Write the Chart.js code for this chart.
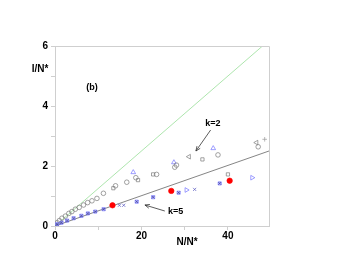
<!DOCTYPE html>
<html>
<head>
<meta charset="utf-8">
<script src="https://cdn.jsdelivr.net/npm/chart.js@4.4.0/dist/chart.umd.min.js"></script>
<style>html,body{margin:0;padding:0;background:#fff;}</style>
</head>
<body>
<canvas id="myChart" width="353" height="273"></canvas>
<script>
// axis ticks
var xTicks = [0, 10, 20, 30, 40];
var yTicks = [0, 1, 2, 3, 4, 5, 6];
var xTickLabels = [0, 20, 40];
var yTickLabels = [0, 2, 4, 6];

// upper branch (k=2)
var upCircles = [[0.5,0.11],[1.0,0.18],[1.6,0.26],[2.4,0.33],[3.2,0.42],[3.9,0.48],[4.7,0.56],[5.6,0.62],[6.6,0.70],[7.55,0.78],[8.55,0.84],[9.7,0.92],[11.2,1.09],[14,1.34],[16.6,1.46],[18.7,1.61],[23.5,1.72],[27.7,1.96],[28.1,2.03],[37.7,2.37],[47,2.64]];
var upSquares = [[13.5,1.26],[19.2,1.53],[22.7,1.72],[34.1,2.22],[40,1.72]];
var upTriangles = [[18.1,1.79],[27.5,2.12],[36.6,2.59]];
var leftTriangles = [[31,2.31],[46.6,2.78]];
var plusMarks = [[48.5,2.89]];

// lower branch (k=5)
var lowSquares = [[0.5,0.06],[1.5,0.11],[2.8,0.18],[4.3,0.26],[6.1,0.34],[7.6,0.42],[9.3,0.48],[11.25,0.56],[18.9,0.81],[22.7,0.96],[28.6,1.11],[38.1,1.42]];
var lowCrosses = [[14.9,0.69],[15.9,0.69],[32.3,1.22]];
var rightTriangles = [[30.4,1.2],[45.6,1.61]];
var redDots = [[13.3,0.69],[26.9,1.17],[40.4,1.51]];

// reference lines
var greenLine = [[0,0],[48,6]];
var grayLine = [[0,0],[49.5,2.5]];

// annotations: [text, text x, text y, arrow start x, y, arrow tip x, y]
var notes = [
    ['k=2', 36.5, 3.4, 36.0, 3.2, 32.6, 2.5],
    ['k=5', 27.9, 0.47, 25.4, 0.5, 20.8, 0.70]
];

function pts(arr) {
    return arr.map(function (p) { return {x: p[0], y: p[1]}; });
}

var blue = '#7474ff';
var gray = '#7a7a7a';

function marks(data, style, color, r, extra) {
    var ds = {
        type: 'scatter',
        data: pts(data),
        pointStyle: style,
        pointRadius: r,
        pointBorderColor: color,
        pointBackgroundColor: 'transparent',
        pointBorderWidth: 0.7,
        showLine: false
    };
    for (var k in extra) ds[k] = extra[k];
    return ds;
}

var frame = {
    id: 'frame',
    afterDraw: function (chart) {
        var c = chart.ctx, a = chart.chartArea, sx = chart.scales.x, sy = chart.scales.y;
        c.save();
        c.strokeStyle = '#cfcfcf';
        c.lineWidth = 1;
        c.beginPath();
        c.moveTo(a.left, a.top + 0.5);
        c.lineTo(a.right + 0.5, a.top + 0.5);
        c.lineTo(a.right + 0.5, a.bottom);
        c.stroke();
        c.fillStyle = '#000';
        c.font = 'bold 10px "Liberation Sans", Arial, sans-serif';
        c.textAlign = 'center';
        c.textBaseline = 'middle';
        c.fillText('I/N*', 40, 69);
        c.fillText('N/N*', 187, 242);
        c.font = 'bold 9px "Liberation Sans", Arial, sans-serif';
        c.fillText('(b)', 92, 88);
        notes.forEach(function (n) {
            c.fillStyle = '#000';
            c.fillText(n[0], sx.getPixelForValue(n[1]), sy.getPixelForValue(n[2]));
            var x0 = sx.getPixelForValue(n[3]), y0 = sy.getPixelForValue(n[4]);
            var x1 = sx.getPixelForValue(n[5]), y1 = sy.getPixelForValue(n[6]);
            c.strokeStyle = '#333';
            c.lineWidth = 0.8;
            c.beginPath();
            c.moveTo(x0, y0);
            c.lineTo(x1, y1);
            c.stroke();
            var ang = Math.atan2(y1 - y0, x1 - x0);
            c.beginPath();
            c.moveTo(x1 - 5 * Math.cos(ang - 0.4), y1 - 5 * Math.sin(ang - 0.4));
            c.lineTo(x1, y1);
            c.lineTo(x1 - 5 * Math.cos(ang + 0.4), y1 - 5 * Math.sin(ang + 0.4));
            c.stroke();
        });
        c.restore();
    }
};

new Chart(document.getElementById('myChart'), {
    type: 'scatter',
    data: {
        datasets: [
            marks(redDots, 'circle', '#ff0000', 2.7, {pointBackgroundColor: '#ff0000'}),
            marks(lowSquares, 'crossRot', '#3a3aa0', 1.9, {}),
            marks(lowSquares, 'rect', blue, 2.2, {pointBackgroundColor: 'rgba(110,110,220,0.35)'}),
            marks(lowCrosses, 'crossRot', '#5858c0', 2.2, {}),
            marks(rightTriangles, 'triangle', blue, 2.7, {rotation: 90}),
            marks(upCircles, 'circle', gray, 2.3, {}),
            marks(upSquares, 'rect', gray, 2.3, {}),
            marks(upTriangles, 'triangle', blue, 2.7, {}),
            marks(leftTriangles, 'triangle', gray, 2.7, {rotation: -90}),
            marks(plusMarks, 'cross', '#999', 2.3, {}),
            {
                type: 'line', data: pts(grayLine), borderColor: '#777', borderWidth: 0.9,
                pointRadius: 0, showLine: true, fill: false
            },
            {
                type: 'line', data: pts(greenLine), borderColor: '#a4e2a4', borderWidth: 0.9,
                pointRadius: 0, showLine: true, fill: false
            }
        ]
    },
    options: {
        responsive: false,
        animation: false,
        events: [],
        layout: {padding: {left: 0, right: 84, top: 46, bottom: 0}},
        plugins: {legend: {display: false}, tooltip: {enabled: false}},
        scales: {
            x: {
                type: 'linear', min: 0, max: 49.5,
                afterBuildTicks: function (s) { s.ticks = xTicks.map(function (v) { return {value: v}; }); },
                afterFit: function (s) { s.height = 47; },
                grid: {drawOnChartArea: false, drawTicks: true, tickLength: 4, color: '#cfcfcf'},
                border: {color: '#cfcfcf'},
                ticks: {
                    padding: 0, color: '#000', maxRotation: 0, autoSkip: false,
                    font: {family: '"Liberation Sans", Arial, sans-serif', size: 10, weight: 'bold'},
                    callback: function (v) { return xTickLabels.indexOf(v) >= 0 ? String(v) : ''; }
                }
            },
            y: {
                min: 0, max: 6,
                afterBuildTicks: function (s) { s.ticks = yTicks.map(function (v) { return {value: v}; }); },
                afterFit: function (s) { s.width = 55; },
                grid: {drawOnChartArea: false, drawTicks: true, tickLength: 4, color: '#cfcfcf'},
                border: {color: '#cfcfcf'},
                ticks: {
                    padding: 3, color: '#000', autoSkip: false,
                    font: {family: '"Liberation Sans", Arial, sans-serif', size: 10, weight: 'bold'},
                    callback: function (v) { return yTickLabels.indexOf(v) >= 0 ? String(v) : ''; }
                }
            }
        }
    },
    plugins: [frame]
});
</script>
</body>
</html>
